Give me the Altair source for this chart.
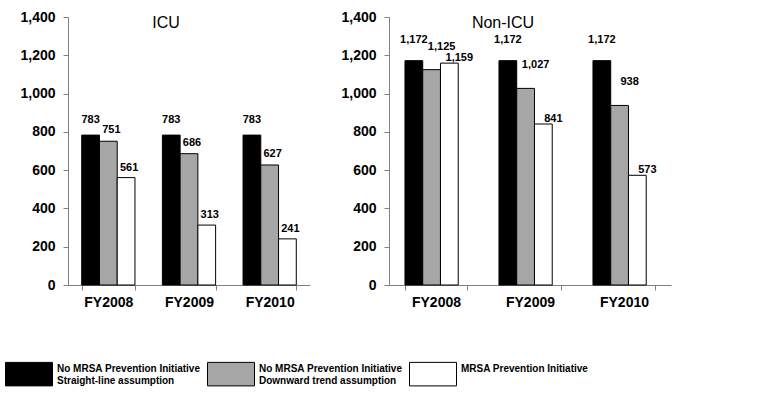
import altair as alt
import pandas as pd

years = ["FY2008", "FY2009", "FY2010"]
series = [
    "No MRSA Prevention Initiative\nStraight-line assumption",
    "No MRSA Prevention Initiative\nDownward trend assumption",
    "MRSA Prevention Initiative",
]
colors = ["#000000", "#a6a6a6", "#ffffff"]

icu_straight = [783, 783, 783]
icu_trend = [751, 686, 627]
icu_prev = [561, 313, 241]

non_straight = [1172, 1172, 1172]
non_trend = [1125, 1027, 938]
non_prev = [1159, 841, 573]

y_ticks = [0, 200, 400, 600, 800, 1000, 1200, 1400]

FONT = "Liberation Sans"
# per-series label nudges for each panel (style only): (dx, dy)
icu_nudge = [(0, -15), (3, -11), (3, -10)]
non_nudge = [(0, -21), (10, -23), (10, -5)]


def make_df(a, b, c):
    rows = []
    for vals, s in zip([a, b, c], series):
        for yr, v in zip(years, vals):
            rows.append({"year": yr, "series": s, "value": v})
    return pd.DataFrame(rows)


def panel(df, title, w, tx, nudges):
    base = alt.Chart(df).encode(
        x=alt.X(
            "year:N",
            sort=years,
            scale=alt.Scale(paddingInner=0.34, paddingOuter=0.17),
            axis=alt.Axis(
                title=None, labelAngle=0, tickBand="extent", ticks=True,
                tickSize=5, labelPadding=5, labelFontSize=14,
                labelFontWeight="bold", labelFont=FONT, labelColor="#000000",
                domainColor="#7f7f7f", tickColor="#7f7f7f", grid=False,
            ),
        ),
        xOffset=alt.XOffset("series:N", sort=series,
                            scale=alt.Scale(paddingInner=0, paddingOuter=0)),
        y=alt.Y(
            "value:Q",
            scale=alt.Scale(domain=[0, 1400]),
            axis=alt.Axis(
                title=None, values=y_ticks, format=",.0f", grid=False,
                tickSize=5, labelPadding=8, labelFontSize=14,
                labelFontWeight="bold", labelFont=FONT, labelColor="#000000",
                domainColor="#7f7f7f", tickColor="#7f7f7f",
            ),
        ),
    )
    bars = base.mark_bar(stroke="#000000", strokeWidth=1).encode(
        color=alt.Color(
            "series:N", sort=series,
            scale=alt.Scale(domain=series, range=colors),
            legend=alt.Legend(
                title=None, orient="none", direction="horizontal",
                legendX=-63, legendY=333,
                symbolType="M-1,-0.5L1,-0.5L1,0.5L-1,0.5Z",
                symbolSize=2209, symbolStrokeColor="#000000",
                symbolStrokeWidth=1, symbolOpacity=1,
                labelExpr="split(datum.label, '\\n')",
                labelFont=FONT,
                labelFontSize=10, labelFontWeight="bold",
                labelColor="#000000", labelOffset=4, labelLimit=300,
                labelBaseline="bottom",
                columnPadding=4,
            ),
        )
    )
    layers = [bars]
    for s, (ddx, ddy) in zip(series, nudges):
        layers.append(
            base.transform_filter(alt.datum.series == s).mark_text(
                dx=ddx, dy=ddy, fontSize=11, fontWeight="bold", font=FONT,
                color="#000000", baseline="middle",
            ).encode(text=alt.Text("value:Q", format=",.0f"))
        )
    ttl = alt.Chart(pd.DataFrame({"t": [title]})).mark_text(
        fontSize=16, font=FONT, color="#000000", baseline="middle"
    ).encode(text="t:N", x=alt.value(tx), y=alt.value(6))
    layers.append(ttl)
    return alt.layer(*layers).properties(width=w, height=268)


icu = panel(make_df(icu_straight, icu_trend, icu_prev), "ICU", 242, 98, icu_nudge)
non = panel(make_df(non_straight, non_trend, non_prev), "Non-ICU", 282, 114, non_nudge)

chart = alt.hconcat(icu, non, spacing=30).properties(
    padding={"left": 5, "top": 10, "right": 5, "bottom": 5},
    background="#ffffff",
).configure_view(stroke=None)

chart.save("out.html", embed_options={"renderer": "svg", "actions": False})
